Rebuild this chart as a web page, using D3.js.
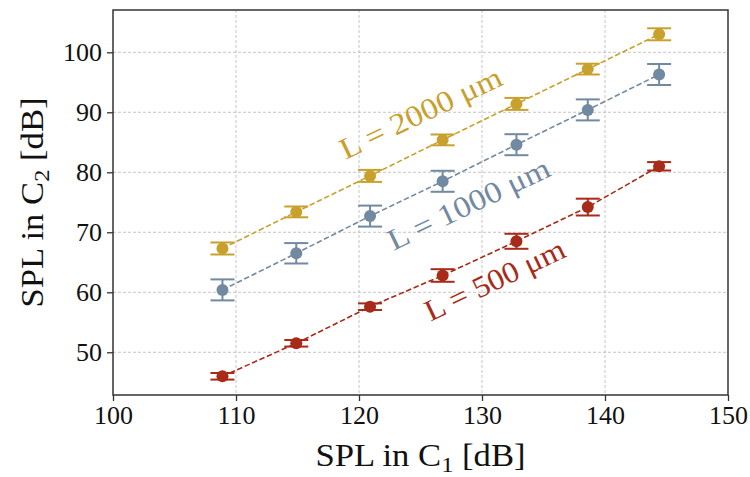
<!DOCTYPE html>
<html>
<head>
<meta charset="utf-8">
<script src="https://cdn.jsdelivr.net/npm/d3@7"></script>
<style>
  body { margin: 0; background: #fff; }
  svg { display: block; }
</style>
</head>
<body>
<div id="chart"></div>
<script>
// SPL measured in C1 (x axis) for each step
const splC1 = [108.9, 114.9, 120.9, 126.8, 132.8, 138.6, 144.4];

// SPL in C2 per tube length, with error (+/-)
const spl2000 = [67.3, 73.4, 79.4, 85.4, 91.4, 97.2, 103.0];
const err2000 = [1.0, 0.9, 1.0, 0.9, 1.0, 0.9, 1.0];
const spl1000 = [60.4, 66.5, 72.7, 78.5, 84.6, 90.4, 96.3];
const err1000 = [1.75, 1.7, 1.75, 1.75, 1.75, 1.75, 1.75];
const spl500 = [46.0, 51.5, 57.6, 62.8, 68.5, 74.2, 81.0];
const err500 = [0.55, 0.55, 0.55, 1.05, 1.25, 1.4, 0.7];

const xTicks = [100, 110, 120, 130, 140, 150];
const yTicks = [50, 60, 70, 80, 90, 100];

const seriesNames = ['L = 2000 μm', 'L = 1000 μm', 'L = 500 μm'];
const seriesColors = ['#c8a02c', '#7189a1', '#a82a18'];

const width = 750;
const height = 477;
const margin = { top: 10, right: 22, bottom: 82, left: 113 };
const fontFamily = '"Liberation Serif", "DejaVu Serif", serif';

const svg = d3.select('#chart').append('svg').attr('width', width).attr('height', height);

const x = d3.scaleLinear().domain([100, 150]).range([margin.left, width - margin.right]);
const y = d3.scaleLinear().domain([42.88, 107.05]).range([height - margin.bottom, margin.top]);

// grid
const grid = svg.append('g').attr('stroke', '#b8b8b8').attr('stroke-width', 0.8).attr('stroke-dasharray', '3,2');
grid.selectAll('line.vx').data(xTicks.slice(1, -1)).join('line')
  .attr('x1', (d) => x(d)).attr('x2', (d) => x(d))
  .attr('y1', y.range()[1]).attr('y2', y.range()[0]);
grid.selectAll('line.hy').data(yTicks).join('line')
  .attr('y1', (d) => y(d)).attr('y2', (d) => y(d))
  .attr('x1', x.range()[0]).attr('x2', x.range()[1]);

// axes
const xAxis = svg.append('g')
  .attr('transform', `translate(0,${y.range()[0]})`)
  .call(d3.axisBottom(x).tickValues(xTicks).tickSize(6).tickPadding(5));
const yAxis = svg.append('g')
  .attr('transform', `translate(${x.range()[0]},0)`)
  .call(d3.axisLeft(y).tickValues(yTicks).tickSize(6).tickPadding(5));

[xAxis, yAxis].forEach((ax) => {
  ax.select('.domain').remove();
  ax.selectAll('line').attr('stroke', '#333').attr('stroke-width', 1.3);
  ax.selectAll('text').attr('fill', '#111').style('font-family', fontFamily).style('font-size', '26px');
});

// frame
svg.append('rect')
  .attr('x', x.range()[0]).attr('y', y.range()[1])
  .attr('width', x.range()[1] - x.range()[0]).attr('height', y.range()[0] - y.range()[1])
  .attr('fill', 'none').attr('stroke', '#333').attr('stroke-width', 1.5);

// series
const series = [
  { name: seriesNames[0], color: seriesColors[0], values: spl2000, errs: err2000 },
  { name: seriesNames[1], color: seriesColors[1], values: spl1000, errs: err1000 },
  { name: seriesNames[2], color: seriesColors[2], values: spl500, errs: err500 },
];

const line = d3.line().x((d) => x(d[0])).y((d) => y(d[1]));

series.forEach((s) => {
  const pts = splC1.map((v, i) => [v, s.values[i], s.errs[i]]);
  const g = svg.append('g');

  g.append('path')
    .datum(pts)
    .attr('d', line)
    .attr('fill', 'none')
    .attr('stroke', s.color)
    .attr('stroke-width', 1.6)
    .attr('stroke-dasharray', '5.5,2.6');

  const bars = g.selectAll('g.bar').data(pts).join('g').attr('stroke', s.color).attr('stroke-width', 2);
  bars.append('line')
    .attr('x1', (d) => x(d[0])).attr('x2', (d) => x(d[0]))
    .attr('y1', (d) => y(d[1] - d[2])).attr('y2', (d) => y(d[1] + d[2]));
  [-1, 1].forEach((sign) => {
    bars.append('line')
      .attr('x1', (d) => x(d[0]) - 12).attr('x2', (d) => x(d[0]) + 12)
      .attr('y1', (d) => y(d[1] + sign * d[2])).attr('y2', (d) => y(d[1] + sign * d[2]));
  });

  g.selectAll('circle').data(pts).join('circle')
    .attr('cx', (d) => x(d[0])).attr('cy', (d) => y(d[1]))
    .attr('r', 6)
    .attr('fill', s.color);
});

// inline labels along the lines (Palatino in the original is wider, hence textLength)
const labelPos = [[425, 122], [473, 213], [499, 289]];
const labelLen = [176, 176, 152];
series.forEach((s, i) => {
  svg.append('text')
    .attr('transform', `translate(${labelPos[i][0]},${labelPos[i][1]}) rotate(-25.5)`)
    .attr('text-anchor', 'middle')
    .attr('textLength', labelLen[i])
    .attr('lengthAdjust', 'spacingAndGlyphs')
    .attr('fill', s.color)
    .style('font-family', fontFamily)
    .style('font-size', '30px')
    .text(s.name);
});

// axis titles with subscripts
function axisTitle(sub) {
  const t = svg.append('text')
    .attr('text-anchor', 'middle')
    .attr('textLength', 210)
    .attr('lengthAdjust', 'spacingAndGlyphs')
    .attr('fill', '#111')
    .style('font-family', fontFamily)
    .style('font-size', '31px');
  t.append('tspan').text('SPL in C');
  t.append('tspan').attr('dy', 6).style('font-size', '22px').text(sub);
  t.append('tspan').attr('dy', -6).text(' [dB]');
  return t;
}

axisTitle('1').attr('x', (x.range()[0] + x.range()[1]) / 2).attr('y', 466);
axisTitle('2').attr('transform', `translate(43,${(y.range()[0] + y.range()[1]) / 2}) rotate(-90)`);
</script>
</body>
</html>
